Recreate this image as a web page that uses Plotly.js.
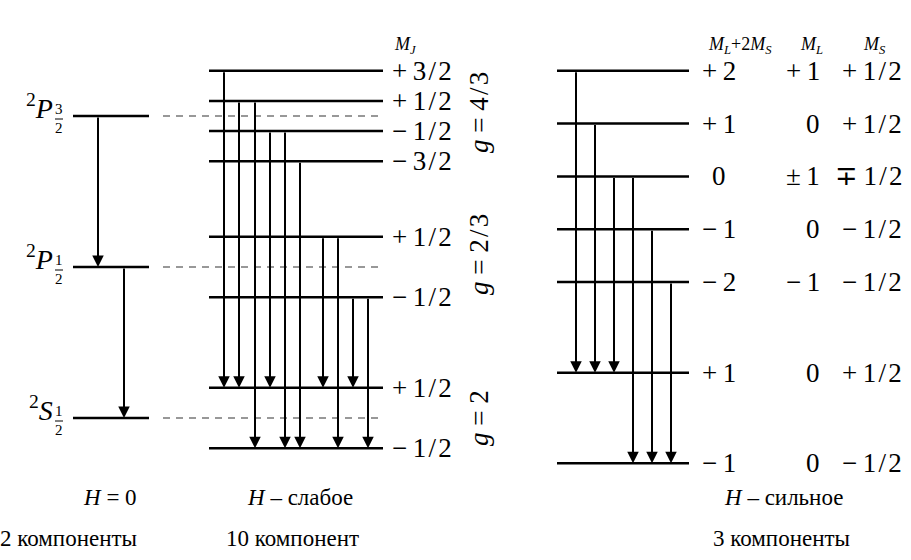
<!DOCTYPE html>
<html>
<head>
<meta charset="utf-8">
<script src="https://cdn.plot.ly/plotly-3.0.1.min.js"></script>
<style>
html,body{margin:0;padding:0;background:#fff;}
#chart{width:911px;height:560px;}
</style>
</head>
<body>
<div id="chart"></div>
<script>
// ---------------- DATA ----------------
// Zero field (H = 0): fine-structure terms, energy in schematic units
const zeroLetters = ['P', 'P', 'S'];
const zeroJnum = ['3', '1', '1'];
const zeroJden = ['2', '2', '2'];
const zeroE = [2, 1, 0];
const zeroTransitions = [[0, 1], [1, 2]];

// Weak field (anomalous Zeeman): M_J sublevels
const weakMJ = ['+3/2', '+1/2', '−1/2', '−3/2', '+1/2', '−1/2', '+1/2', '−1/2'];
const weakE = [2.3, 2.1, 1.9, 1.7, 1.2, 0.8, 0.2, -0.2];
const gFactors = ['4/3', '2/3', '2'];
const weakTransitions = [[0, 6], [1, 6], [1, 7], [2, 6], [2, 7], [3, 7], [4, 6], [4, 7], [5, 6], [5, 7]];

// Strong field (Paschen–Back)
const strongE = [2.3, 1.95, 1.6, 1.25, 0.9, 0.3, -0.3];
const strongMLMS = ['+2', '+1', '0', '−1', '−2', '+1', '−1'];
const strongML = ['+1', '0', '±1', '0', '−1', '0', '0'];
const strongMS = ['+1/2', '+1/2', '∓1/2', '−1/2', '−1/2', '+1/2', '−1/2'];
const strongTransitions = [[0, 5], [1, 5], [2, 5], [2, 6], [3, 6], [4, 6]];

// Captions
const captionField = ['<i>H</i> = 0', '<i>H</i> – слабое', '<i>H</i> – сильное'];
const captionCount = ['2 компоненты', '10 компонент', '3 компоненты'];
const headers = ['<i>M</i><sub><i>J</i></sub>', '<i>M</i><sub><i>L</i></sub>+2<i>M</i><sub><i>S</i></sub>',
                 '<i>M</i><sub><i>L</i></sub>', '<i>M</i><sub><i>S</i></sub>'];

// ---------------- LAYOUT CONSTANTS ----------------
const W = 911, H = 560;
const PX = 151;                 // pixels per energy unit
const Y_TOP = 418 / PX;         // energy at top edge
const Y_BOT = Y_TOP - H / PX;
const py = p => Y_TOP - p / PX; // pixel row -> data y (for text placement)

const L = {
  zeroL: 73, zeroR: 149, zeroArrowX: [98, 124], dashL: 163, dashR: 383,
  weakL: 209, weakR: 383, weakArrowX: [224, 239, 255, 270, 285, 300, 323, 338, 353, 368],
  weakLabelX: 390, gX: 479, gShift: [3, 12, 0],
  strongL: 557, strongR: 689, strongArrowX: [576, 595, 614, 633, 652, 671],
  col1: 719, col2: 822, col3: 904,
  headerY: 45, headerX: [392, 740, 811, 874],
  capX1: [110, 300, 783], capY1: 497, capX2: [68, 292, 781], capY2: 538
};

const SERIF = 'Liberation Serif';
const LBL = {family: SERIF, size: 27, color: '#000'};
const sp = s => s.replace(/^([+−±∓])/, '$1\u2009').replace('/', '\u200a/\u200a');

// ---------------- TRACES ----------------
function segs(xl, xr, ys) {
  const x = [], y = [];
  ys.forEach(v => { x.push(xl, xr, null); y.push(v, v, null); });
  return {x, y};
}
const traces = [];
const zs = segs(L.zeroL, L.zeroR, zeroE);
traces.push({x: zs.x, y: zs.y, mode: 'lines', line: {color: '#000', width: 2.5}, hoverinfo: 'skip'});
const ds = segs(L.dashL, L.dashR, zeroE);
traces.push({x: ds.x, y: ds.y, mode: 'lines', line: {color: '#333', width: 1.2, dash: '7px,6px'}, hoverinfo: 'skip'});
const ws = segs(L.weakL, L.weakR, weakE);
traces.push({x: ws.x, y: ws.y, mode: 'lines', line: {color: '#000', width: 2.5}, hoverinfo: 'skip'});
const ss = segs(L.strongL, L.strongR, strongE);
traces.push({x: ss.x, y: ss.y, mode: 'lines', line: {color: '#000', width: 2.5}, hoverinfo: 'skip'});

// ---------------- ANNOTATIONS ----------------
const ann = [];
function arrow(x, yFrom, yTo) {
  ann.push({x: x, y: yTo, ax: x, ay: yFrom, xref: 'x', yref: 'y', axref: 'x', ayref: 'y',
    text: '', showarrow: true, arrowhead: 2, arrowsize: 1.15, arrowwidth: 2, arrowcolor: '#000', standoff: 0});
}
zeroTransitions.forEach((t, i) => arrow(L.zeroArrowX[i], zeroE[t[0]], zeroE[t[1]]));
weakTransitions.forEach((t, i) => arrow(L.weakArrowX[i], weakE[t[0]], weakE[t[1]]));
strongTransitions.forEach((t, i) => arrow(L.strongArrowX[i], strongE[t[0]], strongE[t[1]]));

function txt(x, y, text, opts) {
  ann.push(Object.assign({x: x, y: y, xref: 'x', yref: 'y', text: text, showarrow: false,
    font: Object.assign({}, LBL), xanchor: 'center', yanchor: 'middle'}, opts || {}));
}

// zero-field term symbols with stacked fraction subscripts
const shapes = [];
zeroE.forEach((e, i) => {
  txt(55, e, '<sup>2</sup><i>' + zeroLetters[i] + '</i>', {xanchor: 'right', yshift: 10, font: {family: SERIF, size: 28, color: '#000'}});
  txt(59, e, zeroJnum[i], {yshift: 7, font: {family: SERIF, size: 15, color: '#000'}});
  txt(59, e, zeroJden[i], {yshift: -12, font: {family: SERIF, size: 15, color: '#000'}});
  shapes.push({type: 'line', xref: 'x', yref: 'y', x0: 55, x1: 63, y0: e - 3 / PX, y1: e - 3 / PX,
    line: {color: '#000', width: 1}});
});

// weak-field M_J labels
weakE.forEach((e, i) => txt(L.weakLabelX, e, sp(weakMJ[i]), {xanchor: 'left'}));
// g-factor labels, rotated
zeroE.forEach((e, i) => txt(L.gX, e, '<i>g</i> = ' + sp(gFactors[i]), {textangle: -90, yshift: L.gShift[i]}));

// strong-field labels
strongE.forEach((e, i) => {
  txt(L.col1, e, sp(strongMLMS[i]));
  txt(L.col2, e, sp(strongML[i]), {xanchor: 'right'});
  txt(L.col3, e, sp(strongMS[i]), {xanchor: 'right'});
});

// headers
headers.forEach((h, i) => txt(L.headerX[i], py(L.headerY), h,
  Object.assign({font: {family: SERIF, size: 18, color: '#000'}}, i === 0 ? {xanchor: 'left'} : {})));

// captions
captionField.forEach((c, i) => txt(L.capX1[i], py(L.capY1), c, {font: {family: SERIF, size: 23, color: '#000'}}));
captionCount.forEach((c, i) => txt(L.capX2[i], py(L.capY2), c, {font: {family: SERIF, size: 23, color: '#000'}}));

const layout = {
  width: W, height: H,
  margin: {l: 0, r: 0, t: 0, b: 0},
  paper_bgcolor: '#fff', plot_bgcolor: '#fff',
  showlegend: false,
  xaxis: {range: [0, W], visible: false, fixedrange: true},
  yaxis: {range: [Y_BOT, Y_TOP], visible: false, fixedrange: true},
  annotations: ann,
  shapes: shapes
};

Plotly.newPlot('chart', traces, layout, {staticPlot: true, displayModeBar: false});
</script>
</body>
</html>
